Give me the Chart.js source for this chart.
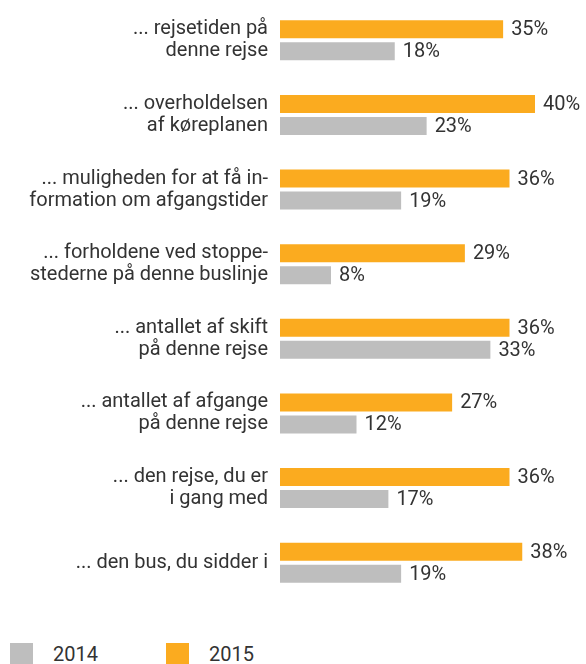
<!DOCTYPE html>
<html lang="da">
<head>
<meta charset="UTF-8" />
<title>Tilfredshed 2014 / 2015</title>
<script src="https://cdn.jsdelivr.net/npm/chart.js"></script>
<style>
  body {
    margin: 0;
    background: #fff;
    font-family: Roboto, sans-serif;
    color: #333;
    width: 586px;
    height: 664px;
    overflow: hidden;
    position: relative;
  }
  .chart-box {
    position: absolute;
    left: 0;
    top: 0;
    width: 586px;
    height: 600px;
  }
  .legend {
    position: absolute;
    top: 643px;
    left: 10px;
    display: flex;
    font-size: 20px;
    line-height: 22px;
  }
  .legend span.item {
    display: flex;
    align-items: center;
    margin-right: 68px;
  }
  .legend i {
    display: inline-block;
    width: 23px;
    height: 22px;
    margin-right: 20px;
  }
</style>
</head>
<body>

<div class="chart-box">
  <canvas id="chart"></canvas>
</div>

<div class="legend">
  <span class="item"><i style="background:#bebebe"></i>2014</span>
  <span class="item"><i style="background:#fbab1f"></i>2015</span>
</div>

<script>
  const labels = [
    ['... rejsetiden på', 'denne rejse'],
    ['... overholdelsen', 'af køreplanen'],
    ['... muligheden for at få in-', 'formation om afgangstider'],
    ['... forholdene ved stoppe-', 'stederne på denne buslinje'],
    ['... antallet af skift', 'på denne rejse'],
    ['... antallet af afgange', 'på denne rejse'],
    ['... den rejse, du er', 'i gang med'],
    ['... den bus, du sidder i']
  ];
  const values2015 = [35, 40, 36, 29, 36, 27, 36, 38];
  const values2014 = [18, 23, 19, 8, 33, 12, 17, 19];

  // draws "35%" etc. just right of each bar end
  const valueLabels = {
    id: 'valueLabels',
    afterDatasetsDraw(chart) {
      const ctx = chart.ctx;
      ctx.save();
      ctx.font = '20px Roboto, sans-serif';
      ctx.fillStyle = '#333';
      ctx.textBaseline = 'middle';
      ctx.textAlign = 'left';
      chart.data.datasets.forEach((ds, i) => {
        chart.getDatasetMeta(i).data.forEach((bar, j) => {
          ctx.fillText(ds.data[j] + '%', bar.x + 8, bar.y + 1);
        });
      });
      ctx.restore();
    }
  };

  new Chart(document.getElementById('chart'), {
    type: 'bar',
    data: {
      labels: labels,
      datasets: [
        { label: '2015', data: values2015, backgroundColor: '#fbab1f' },
        { label: '2014', data: values2014, backgroundColor: '#bebebe' }
      ]
    },
    options: {
      indexAxis: 'y',
      responsive: true,
      maintainAspectRatio: false,
      animation: false,
      layout: { padding: { top: 3, bottom: 0, right: 0, left: 0 } },
      categoryPercentage: 0.59,
      barPercentage: 0.82,
      plugins: {
        legend: { display: false },
        tooltip: { enabled: false }
      },
      scales: {
        x: {
          display: false,
          min: 0,
          max: 48
        },
        y: {
          grid: { display: false, drawTicks: false },
          border: { display: false },
          afterFit(scale) {
            scale.width = 280;
            scale.paddingTop = 0;
            scale.paddingBottom = 0;
          },
          ticks: {
            color: '#333',
            padding: 12,
            font: { family: 'Roboto, sans-serif', size: 20, lineHeight: 1.1 }
          }
        }
      }
    },
    plugins: [valueLabels]
  });
</script>

</body>
</html>
